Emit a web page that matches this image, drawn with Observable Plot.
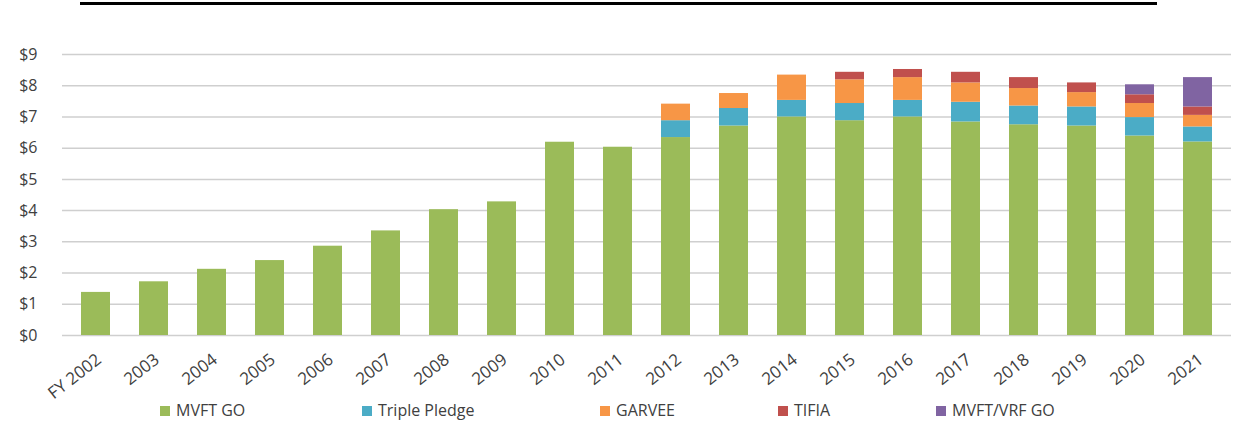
<!DOCTYPE html>
<html>
<head>
<meta charset="utf-8">
<script src="https://cdn.jsdelivr.net/npm/d3@7"></script>
<script src="https://cdn.jsdelivr.net/npm/@observablehq/plot@0.6"></script>
<style>
  body { margin: 0; background: #fff; font-family: "Open Sans", sans-serif; }
  #wrap { position: relative; width: 1235px; height: 425px; overflow: hidden; }
  #topline { position: absolute; left: 80px; top: 2px; width: 1077px; height: 3px; background: #000; }
  #chart { position: absolute; left: 0; top: 0; }
  #legend { position: absolute; left: 0; top: 398px; width: 1235px; height: 27px; }
  .item { position: absolute; top: 0; height: 24px; line-height: 24px; font-size: 16px; color: #404040; white-space: nowrap; }
  .sw { position: absolute; left: 0; top: 8px; width: 10px; height: 10px; }
  .lbl { position: absolute; left: 16px; top: 0; }
</style>
</head>
<body>
<div id="wrap">
  <div id="chart"></div>
  <div id="topline"></div>
  <div id="legend"></div>
</div>
<script>
const years = ["FY 2002","2003","2004","2005","2006","2007","2008","2009","2010","2011",
               "2012","2013","2014","2015","2016","2017","2018","2019","2020","2021"];
const seriesNames = ["MVFT GO","Triple Pledge","GARVEE","TIFIA","MVFT/VRF GO"];
const seriesColors = ["#9BBB59","#4BACC6","#F79646","#C0504D","#8064A2"];
const mvftGo       = [1.38,1.72,2.12,2.40,2.86,3.35,4.03,4.28,6.19,6.03,6.34,6.71,7.00,6.88,7.00,6.84,6.75,6.71,6.39,6.20];
const triplePledge = [0,0,0,0,0,0,0,0,0,0,0.54,0.56,0.53,0.55,0.53,0.63,0.60,0.61,0.59,0.48];
const garvee       = [0,0,0,0,0,0,0,0,0,0,0.53,0.48,0.81,0.76,0.73,0.62,0.56,0.46,0.45,0.37];
const tifia        = [0,0,0,0,0,0,0,0,0,0,0,0,0,0.24,0.26,0.34,0.35,0.31,0.28,0.27];
const mvftVrfGo    = [0,0,0,0,0,0,0,0,0,0,0,0,0,0,0,0,0,0,0.32,0.94];
const yTicks = [0,1,2,3,4,5,6,7,8,9];
const legendX = [160,362,600,778,936];

const seriesValues = [mvftGo, triplePledge, garvee, tifia, mvftVrfGo];
const table = [];
years.forEach((yr, i) => {
  seriesNames.forEach((s, j) => {
    const v = seriesValues[j][i];
    if (v > 0) table.push({year: yr, series: s, value: v});
  });
});

const chart = Plot.plot({
  width: 1235,
  height: 398,
  marginTop: 54,
  marginBottom: 63,
  marginLeft: 62,
  marginRight: 4,
  style: {fontFamily: "'Open Sans', sans-serif", fontSize: "15px", color: "#404040", background: "#fff", overflow: "visible"},
  x: {domain: years, paddingInner: 0.5, paddingOuter: 0.25, label: null},
  y: {domain: [0, 9], label: null},
  color: {domain: seriesNames, range: seriesColors},
  marks: [
    Plot.ruleY(yTicks, {stroke: "#cfcfcf", strokeWidth: 1.5}),
    Plot.barY(table, {x: "year", y: "value", fill: "series", order: seriesNames}),
    Plot.axisY(yTicks, {tickSize: 0, tickPadding: 25, tickFormat: d => "$" + d, fontSize: 16, fill: "#404040"}),
    Plot.axisX({tickSize: 0, tickRotate: -38, tickPadding: 22, dx: 3, fontSize: 17, fill: "#404040"})
  ]
});
document.getElementById("chart").appendChild(chart);

const legend = document.getElementById("legend");
seriesNames.forEach((s, j) => {
  const it = document.createElement("div");
  it.className = "item";
  it.style.left = legendX[j] + "px";
  it.innerHTML = `<span class="sw" style="background:${seriesColors[j]}"></span><span class="lbl">${s}</span>`;
  legend.appendChild(it);
});
</script>
</body>
</html>
